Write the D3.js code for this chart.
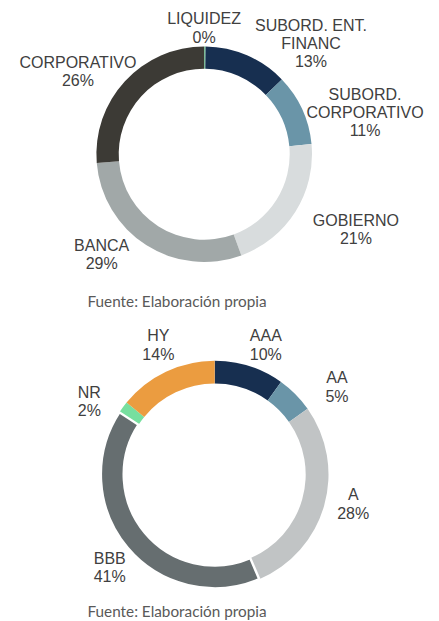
<!DOCTYPE html>
<html>
<head>
<meta charset="utf-8">
<script src="https://cdn.jsdelivr.net/npm/d3@7"></script>
<style>
  html, body { margin: 0; padding: 0; background: #ffffff; }
  svg { display: block; }
</style>
</head>
<body>
<svg id="chart" width="439" height="621"></svg>
<script>
// ---------- DATA ----------
// Chart 1: distribución por tipo de emisor
const sectorCategories = ["LIQUIDEZ", "SUBORD. ENT. FINANC", "SUBORD. CORPORATIVO", "GOBIERNO", "BANCA", "CORPORATIVO"];
const sectorLabelLines = [["LIQUIDEZ"], ["SUBORD. ENT.", "FINANC"], ["SUBORD.", "CORPORATIVO"], ["GOBIERNO"], ["BANCA"], ["CORPORATIVO"]];
const sectorValues = [0.2, 12.6, 10.7, 20.9, 29.3, 26.3];

// Chart 2: distribución por rating
const ratingCategories = ["AAA", "AA", "A", "BBB", "NR", "HY"];
const ratingValues = [9.9, 5.3, 28.4, 40.6, 1.7, 14.1];

const sourceText = "Fuente: Elaboración propia";

// ---------- STYLE / LAYOUT ----------
const sectorColors = ["#6fd59d", "#172f50", "#6a95a8", "#d8dcdd", "#a1a8a8", "#3c3a35"];
const ratingColors = ["#172f50", "#6a95a8", "#c1c4c5", "#666e70", "#77df9f", "#eb9c40"];

// label placement: angle shift (deg) from slice mid-angle, distance from centre
const sectorLabelShift = [-0.4, 20.5, 10.1, -5.8, 13.1, -9.3];
const sectorLabelRadius = [126.4, 154, 166.2, 169.4, 143.3, 151.2];
const ratingLabelShift = [3.7, 9.2, -3.9, -1.6, -6.0, 1.9];
const ratingLabelRadius = [139.4, 150.4, 141.6, 140.3, 145.0, 141.4];

const svg = d3.select("#chart");
const FONT = 16, LINE = 18.3, CAP = 11.4;

function donut(opts) {
  const g = svg.append("g").attr("transform", `translate(${opts.cx},${opts.cy})`);
  const total = d3.sum(opts.values);
  const pie = d3.pie().sort(null).value(d => d)(opts.values);
  const arc = d3.arc().innerRadius(opts.inner).outerRadius(opts.outer);
  const color = d3.scaleOrdinal().domain(opts.categories).range(opts.colors);

  const order = pie.map((p, i) => i);
  if (opts.separated != null) {
    order.splice(order.indexOf(opts.separated), 1);
    order.push(opts.separated);
  }
  g.selectAll("path.slice")
    .data(order.map(i => pie[i]))
    .join("path")
    .attr("class", "slice")
    .attr("d", arc)
    .attr("fill", d => color(opts.categories[d.index]))
    .attr("stroke", d => d.index === opts.separated ? "#ffffff" : "none")
    .attr("stroke-width", d => d.index === opts.separated ? 2.4 : 0);

  pie.forEach((p, i) => {
    const mid = (p.startAngle + p.endAngle) / 2 + opts.shift[i] * Math.PI / 180;
    const r = opts.radius[i];
    const x = r * Math.sin(mid);
    const yMid = -r * Math.cos(mid);
    const lines = opts.lines[i].concat([Math.round(p.value / total * 100) + "%"]);
    const firstBase = yMid - (LINE * (lines.length - 1)) / 2 + CAP / 2;
    const t = g.append("text")
      .attr("text-anchor", "middle")
      .attr("font-family", "Liberation Sans, Arial, sans-serif")
      .attr("font-size", FONT + "px")
      .attr("fill", "#404040");
    lines.forEach((ln, k) => {
      t.append("tspan").attr("x", x).attr("y", firstBase + k * LINE).text(ln);
    });
  });

  svg.append("text")
    .attr("x", opts.sourceX)
    .attr("y", opts.sourceY)
    .attr("font-family", "Lato, 'Open Sans', sans-serif")
    .attr("font-size", "15.3px")
    .attr("fill", "#595959")
    .text(sourceText);
}

donut({
  cx: 204.2, cy: 154.2, inner: 85.5, outer: 107.8,
  categories: sectorCategories, values: sectorValues, colors: sectorColors,
  lines: sectorLabelLines, shift: sectorLabelShift, radius: sectorLabelRadius,
  separated: null, sourceX: 87.5, sourceY: 306.5
});

donut({
  cx: 214.7, cy: 474.5, inner: 91, outer: 113.8,
  categories: ratingCategories, values: ratingValues, colors: ratingColors,
  lines: ratingCategories.map(c => [c]), shift: ratingLabelShift, radius: ratingLabelRadius,
  separated: 3, sourceX: 87.5, sourceY: 616.5
});
</script>
</body>
</html>
